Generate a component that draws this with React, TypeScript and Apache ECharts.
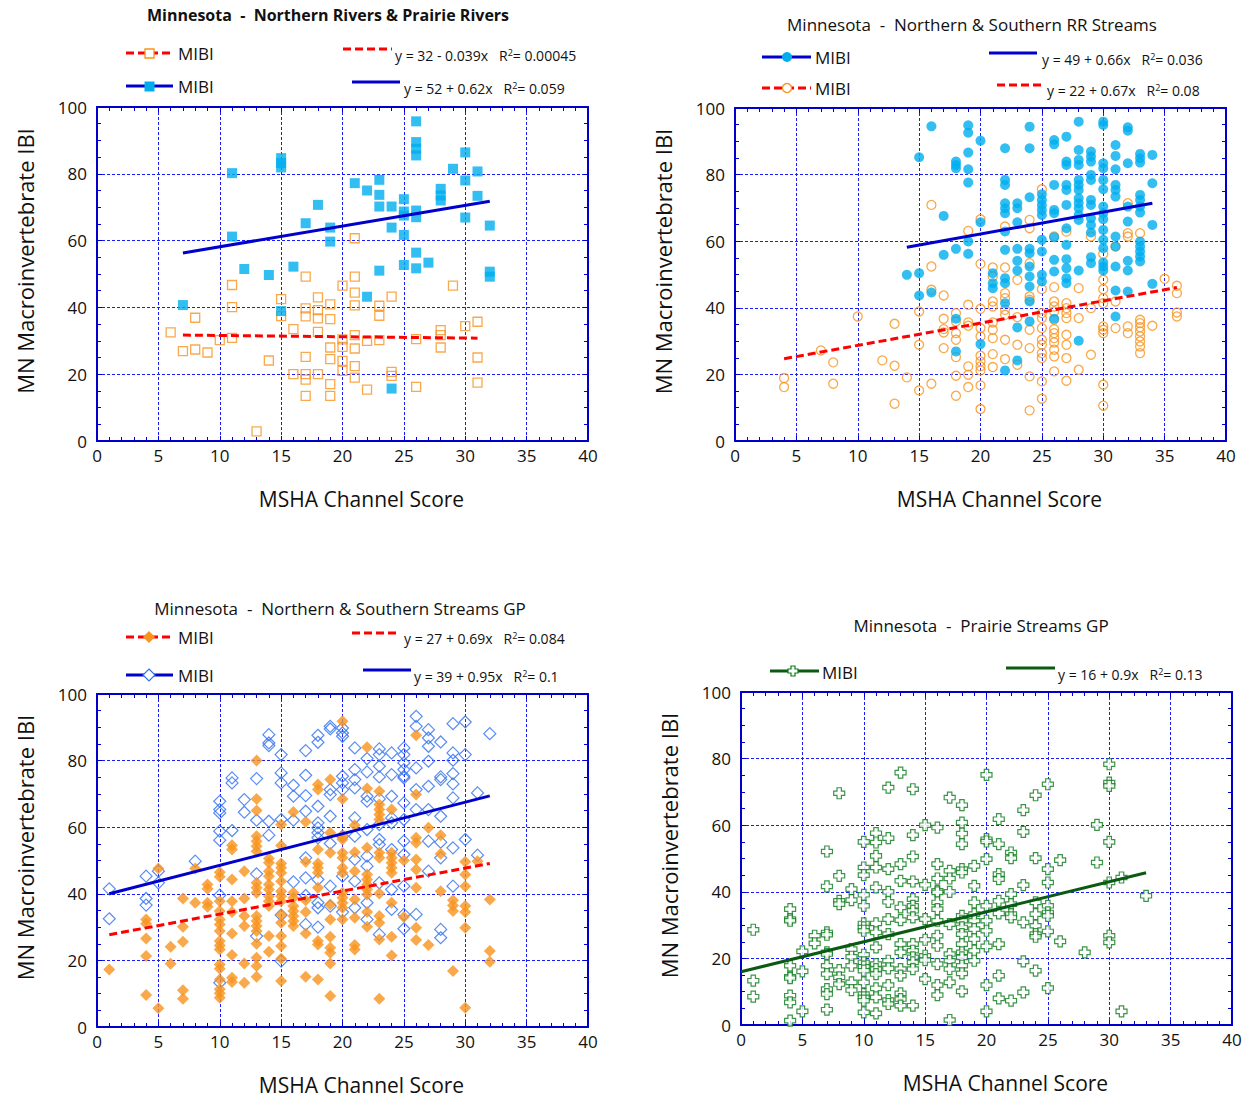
import React, { useEffect, useRef } from "react";
import * as echarts from "echarts";

// ---------- Data ----------
const titleTL = "Minnesota  -  Northern Rivers & Prairie Rivers";
const titleTR = "Minnesota  -  Northern & Southern RR Streams";
const titleBL = "Minnesota  -  Northern & Southern Streams GP";
const titleBR = "Minnesota  -  Prairie Streams GP";
const seriesName = "MIBI";
const xName = "MSHA Channel Score";
const yName = "MN Macroinvertebrate IBI";

const eqTLRed = "y = 32 - 0.039x   R{s|2}= 0.00045";
const eqTLBlue = "y = 52 + 0.62x   R{s|2}= 0.059";
const eqTRBlue = "y = 49 + 0.66x   R{s|2}= 0.036";
const eqTRRed = "y = 22 + 0.67x   R{s|2}= 0.08";
const eqBLRed = "y = 27 + 0.69x   R{s|2}= 0.084";
const eqBLBlue = "y = 39 + 0.95x   R{s|2}= 0.1";
const eqBRGreen = "y = 16 + 0.9x   R{s|2}= 0.13";

// Top-left: Northern Rivers & Prairie Rivers
const tlOrange = [
  [6, 32.5], [7, 26.9], [8, 36.9], [8, 27.4], [9, 26.5], [10, 30.2], [11, 46.7], [11, 40.1], [11, 30.9],
  [13, 2.9], [14, 24.1], [15, 42.5], [15, 37.4], [16, 33.5], [16, 20], [17, 49.2], [17, 39.7], [17, 37.3],
  [17, 25.2], [17, 20], [17, 18.4], [17, 13.5], [18, 43], [18, 39.2], [18, 36.7], [18, 32.7], [18, 20],
  [19, 40.9], [19, 36.5], [19, 28], [19, 24.5], [19, 17], [19, 13.5], [20, 46.5], [20, 30.4], [20, 28.2],
  [20, 24], [20, 21], [21, 60.7], [21, 49.2], [21, 44.4], [21, 40.6], [21, 31.7], [21, 27.7], [21, 22.4],
  [21, 19], [22, 30], [22, 15.4], [23, 40.5], [23, 37.5], [23, 30.2], [24, 43.2], [24, 20.7], [24, 19.5],
  [26, 30.5], [26, 16.2], [28, 33.2], [28, 31.7], [28, 28], [29, 46.5], [30, 34.4], [31, 35.7], [31, 25],
  [31, 17.5],
];
const tlCyan = [
  [7, 40.7], [11, 80.2], [11, 61.2], [12, 51.5], [14, 49.7], [15, 84.7], [15, 83.2], [15, 81.9], [15, 38.9],
  [16, 52.2], [17, 65.2], [18, 70.7], [19, 63.9], [19, 59.7], [21, 77.2], [22, 75], [22, 43.2], [23, 78.2],
  [23, 73.7], [23, 70.2], [23, 51], [24, 70.2], [24, 63.9], [24, 15.7], [25, 72.4], [25, 68.7], [25, 67.5],
  [25, 61.7], [25, 52.7], [26, 95.7], [26, 89.5], [26, 87.5], [26, 85.5], [26, 69], [26, 67], [26, 56.4],
  [26, 51.7], [27, 53.4], [28, 75.5], [28, 73.5], [28, 72], [29, 81.5], [30, 86.4], [30, 78], [30, 66.9],
  [31, 80.7], [31, 73.4], [32, 64.5], [32, 50.7], [32, 49.2],
];
const tlRedTrend = [[7, 31.7], [31, 30.8]];
const tlBlueTrend = [[7, 56.3], [32, 71.8]];

// Top-right: Northern & Southern RR Streams
const trCyan = [
  [14, 49.9], [15, 85.2], [15, 50.4], [15, 43.7], [16, 94.5], [16, 44.6], [17, 67.6], [17, 55.9],
  [18, 83.9], [18, 82.9], [18, 81.9], [18, 57.7], [18, 36.7], [18, 26.9],
  [19, 94.8], [19, 92.6], [19, 86.6], [19, 81.6], [19, 77.6], [19, 59.9], [19, 56.2],
  [20, 90.2], [20, 65.7], [20, 29.1], [21, 50.4], [21, 47.4], [21, 45.9],
  [22, 87.9], [22, 78.4], [22, 76.9], [22, 71.4], [22, 69.9], [22, 68.4], [22, 62.9], [22, 57.4], [22, 48.9],
  [22, 47.4], [22, 41.4], [22, 21.2],
  [23, 71.4], [23, 69.9], [23, 65.7], [23, 57.7], [23, 54.1], [23, 51.2], [23, 34.1], [23, 24.2],
  [24, 94.4], [24, 87.9], [24, 73.2], [24, 57.7], [24, 56.4], [24, 52.4], [24, 49.4], [24, 46.4], [24, 41.9], [24, 35.9],
  [25, 74.1], [25, 72.4], [25, 70.9], [25, 69.4], [25, 67.9], [25, 60.4], [25, 56.9], [25, 49.9], [25, 47.9],
  [26, 90.4], [26, 89.1], [26, 76.9], [26, 69.4], [26, 68.4], [26, 61.2], [26, 54.4], [26, 50.9], [26, 36.7],
  [27, 91.4], [27, 83.9], [27, 82.9], [27, 76.9], [27, 75.4], [27, 70.9], [27, 63.9], [27, 58.9], [27, 54.6],
  [27, 51.9], [27, 48.9], [27, 47.4],
  [28, 95.9], [28, 87.4], [28, 84.4], [28, 82.9], [28, 78.4], [28, 76.9], [28, 75.4], [28, 72.9], [28, 71.4],
  [28, 69.9], [28, 67.9], [28, 66.4], [28, 51.2], [28, 30.1],
  [29, 86.9], [29, 85.4], [29, 83.9], [29, 79.9], [29, 78.4], [29, 72.4], [29, 70.9], [29, 66.9], [29, 64.9],
  [29, 62.6], [29, 55.2], [29, 53.4],
  [30, 95.9], [30, 94.9], [30, 83.4], [30, 81.9], [30, 78.4], [30, 75.6], [30, 70.4], [30, 68.4], [30, 66.6],
  [30, 63.4], [30, 60.4], [30, 57.9], [30, 53.6], [30, 52.4], [30, 51.2],
  [31, 88.9], [31, 85.6], [31, 81.6], [31, 76.9], [31, 75.4], [31, 73.4], [31, 61.4], [31, 58.4], [31, 52.4],
  [31, 45.2], [31, 37.4],
  [32, 94.2], [32, 93.2], [32, 83.4], [32, 70.4], [32, 65.9], [32, 54.1], [32, 51.2], [32, 44.9],
  [33, 86.2], [33, 84.9], [33, 83.6], [33, 73.9], [33, 72.4], [33, 70.4], [33, 68.6], [33, 59.9], [33, 58.4],
  [33, 56.9], [33, 55.4], [33, 53.9],
  [34, 85.9], [34, 77.4], [34, 64.9], [34, 47.2],
];
const trOrange = [
  [4, 18.9], [4, 16.2], [7, 27.2], [8, 23.6], [8, 17.2], [10, 37.4], [12, 24.2], [13, 35.2], [13, 22.6],
  [13, 11.2], [14, 19.1], [15, 38.9], [15, 28.9], [15, 15.2], [16, 70.9], [16, 52.4], [16, 45.4], [16, 17.2],
  [17, 43.7], [17, 36.7], [17, 33.6], [17, 32.6], [17, 27.9],
  [18, 38.4], [18, 35.9], [18, 32.4], [18, 30.4], [18, 25.2], [18, 19.6], [18, 13.6],
  [19, 63.1], [19, 40.9], [19, 35.6], [19, 34.6], [19, 22.4], [19, 19.9], [19, 16.2],
  [20, 66.6], [20, 53.2], [20, 39.7], [20, 33.9], [20, 31.4], [20, 25.6], [20, 23.9], [20, 22.4], [20, 21.2],
  [20, 16.7], [20, 9.6],
  [21, 52.1], [21, 49.4], [21, 41.9], [21, 40.4], [21, 35.6], [21, 33.4], [21, 30.9], [21, 26.1], [21, 22.2],
  [22, 64.4], [22, 52.1], [22, 44.4], [22, 42.9], [22, 39.4], [22, 37.9], [22, 30.4], [22, 24.6],
  [23, 48.4], [23, 37.2], [23, 28.9], [23, 22.9],
  [24, 66.4], [24, 63.9], [24, 53.4], [24, 43.4], [24, 42.4], [24, 33.4], [24, 27.9], [24, 19.4], [24, 9.2],
  [25, 75.6], [25, 45.6], [25, 38.4], [25, 36.9], [25, 33.9], [25, 30.4], [25, 28.9], [25, 26.4], [25, 24.9],
  [25, 17.9], [25, 12.7],
  [26, 61.4], [26, 46.2], [26, 41.9], [26, 40.4], [26, 38.9], [26, 36.4], [26, 33.6], [26, 32.4], [26, 30.9],
  [26, 29.6], [26, 27.4], [26, 25.4], [26, 20.9],
  [27, 62.9], [27, 41.4], [27, 39.9], [27, 38.4], [27, 36.9], [27, 31.9], [27, 28.9], [27, 24.9], [27, 18.1],
  [28, 45.9], [28, 36.9], [28, 21.4], [29, 61.4], [29, 39.9], [29, 25.9],
  [30, 56.2], [30, 48.4], [30, 45.6], [30, 42.9], [30, 41.4], [30, 34.4], [30, 33.4], [30, 32.4], [30, 16.9], [30, 10.6],
  [31, 58.4], [31, 41.9], [31, 33.9], [32, 71.4], [32, 62.4], [32, 61.4], [32, 34.4], [32, 32.4],
  [33, 62.4], [33, 36.4], [33, 35.4], [33, 34.2], [33, 32.9], [33, 31.4], [33, 29.9], [33, 28.4], [33, 26.4],
  [34, 34.6], [35, 48.7], [36, 46.6], [36, 44.4], [36, 38.6], [36, 37.4],
];
const trBlueTrend = [[14, 58.2], [34, 71.4]];
const trRedTrend = [[4, 24.7], [36, 46.1]];

// Bottom-left: Northern & Southern Streams GP
const blBlue = [
  [1, 41.5], [1, 32.5], [4, 45.3], [4, 38.6], [4, 36.6], [5, 46.8], [5, 43.3], [8, 49.8],
  [10, 67.8], [10, 65.3], [10, 64.3], [10, 58.8], [10, 56.1], [10, 39.6], [10, 13.3],
  [11, 74.8], [11, 73.3], [11, 59], [12, 68.3], [12, 64.5], [13, 74.6], [13, 62.1], [13, 46], [13, 27.3],
  [14, 87.8], [14, 85.3], [14, 84.5], [14, 61.8], [14, 57.6],
  [15, 81.8], [15, 76.3], [15, 73.3], [15, 62.3], [15, 33.6], [15, 19.8],
  [16, 72.6], [16, 69.3], [16, 62.1], [16, 43.6],
  [17, 83], [17, 75.6], [17, 69.5], [17, 64.8], [17, 50.8], [17, 44.8], [17, 39.5], [17, 30.8],
  [18, 87.6], [18, 85.5], [18, 66.3], [18, 61.3], [18, 59.8], [18, 58.3], [18, 56.8], [18, 44.3], [18, 37.3],
  [18, 35.8], [18, 30],
  [19, 90.3], [19, 89.5], [19, 71.3], [19, 69.8], [19, 63.3], [19, 55.1], [19, 42.3], [19, 36.3],
  [20, 89.8], [20, 88.3], [20, 87.3], [20, 75.3], [20, 73.3], [20, 71.3], [20, 57.3], [20, 45.3], [20, 34.5],
  [21, 83.8], [21, 77.3], [21, 74.3], [21, 71.8], [21, 62.8], [21, 57.3], [21, 50.3], [21, 43.8], [21, 35.8],
  [22, 80.6], [22, 76.6], [22, 69.3], [22, 67.8], [22, 59.3], [22, 51.3], [22, 48.3], [22, 37.3], [22, 32.3],
  [23, 83.5], [23, 81.8], [23, 78.3], [23, 75.1], [23, 68.5], [23, 60.8], [23, 56.3], [23, 54.8], [23, 43.3],
  [23, 27.8],
  [24, 82.3], [24, 75.8], [24, 69.3], [24, 62.8], [24, 61.3], [24, 53.3], [24, 41.3], [24, 35.3],
  [25, 83.8], [25, 81.8], [25, 79.3], [25, 77.3], [25, 75.3], [25, 74.8], [25, 67.3], [25, 62.3], [25, 55.8],
  [25, 51.8], [25, 42.3], [25, 33.8], [25, 29.5],
  [26, 93.3], [26, 90.3], [26, 77.8], [26, 71.3], [26, 65.3], [26, 33.8],
  [27, 89.3], [27, 86.8], [27, 84.3], [27, 79.8], [27, 72.3], [27, 65.3], [27, 55.8], [27, 46.8],
  [28, 85.6], [28, 75.1], [28, 74.3], [28, 63.3], [28, 55.5], [28, 50.8], [28, 29.3], [28, 26.8],
  [29, 91.1], [29, 82.3], [29, 80.1], [29, 76.1], [29, 73], [29, 68.8], [29, 53.8], [29, 42.3],
  [30, 91.6], [30, 81.8], [30, 56.3], [31, 70.3], [31, 51.6], [32, 88.1],
];
const blOrange = [
  [1, 17.3], [4, 32.3], [4, 31], [4, 26.6], [4, 21.3], [4, 9.6], [5, 47.6], [5, 5.6], [6, 24.1], [6, 19],
  [7, 38.6], [7, 30.1], [7, 25.6], [7, 11], [7, 8.5], [8, 47.6], [8, 37.3], [9, 42.8], [9, 41.5], [9, 37.3], [9, 36.1],
  [10, 46.5], [10, 45.1], [10, 37.8], [10, 34.8], [10, 32.3], [10, 30.8], [10, 28.8], [10, 25.8], [10, 24.5],
  [10, 23.3], [10, 18.8], [10, 17.5], [10, 14.3], [10, 11.3], [10, 10.1], [10, 8.8],
  [11, 54.6], [11, 53.3], [11, 44.3], [11, 37.8], [11, 34.5], [11, 28.1], [11, 21.6], [11, 14.8], [11, 13.5],
  [12, 46.8], [12, 38.6], [12, 33.3], [12, 30.3], [12, 19.1], [12, 13.3],
  [13, 80], [13, 68.5], [13, 65], [13, 57.3], [13, 55.8], [13, 54.3], [13, 52.8], [13, 43.3], [13, 41.8],
  [13, 40.3], [13, 33.3], [13, 31.8], [13, 30.3], [13, 28.8], [13, 25], [13, 20.8], [13, 18.3], [13, 15.1],
  [14, 50.6], [14, 49.3], [14, 46.8], [14, 45.3], [14, 42.8], [14, 41.3], [14, 39.3], [14, 37.8], [14, 36.3],
  [14, 27.3], [14, 22.6],
  [15, 60.8], [15, 54.5], [15, 49.1], [15, 47.8], [15, 46.3], [15, 43.8], [15, 40.8], [15, 39.3], [15, 37.8],
  [15, 33.8], [15, 31.3], [15, 27.3], [15, 24.3], [15, 20.5], [15, 13.8],
  [16, 64.6], [16, 40.3], [16, 38.8], [16, 36.3], [16, 34.8], [16, 33.3], [16, 31.8], [16, 30.3],
  [17, 61.6], [17, 49.6], [17, 38.1], [17, 34.5], [17, 28.1], [17, 15.1],
  [18, 72.8], [18, 71.3], [18, 53.3], [18, 49.1], [18, 47.8], [18, 46.3], [18, 41.8], [18, 25.8], [18, 24.8], [18, 14.3],
  [19, 74.3], [19, 58.3], [19, 52.3], [19, 36.8], [19, 32.3], [19, 27.1], [19, 23.8], [19, 22.3], [19, 19.1], [19, 9.3],
  [20, 91.8], [20, 68.5], [20, 57.3], [20, 56.3], [20, 52.3], [20, 50.8], [20, 47.8], [20, 46.3], [20, 40.3],
  [20, 38.8], [20, 37.3], [20, 35.8], [20, 32.3],
  [21, 60.6], [21, 52.5], [21, 46.8], [21, 38.3], [21, 32.8], [21, 24.6], [21, 23.3],
  [22, 84], [22, 71.6], [22, 53.8], [22, 45.8], [22, 44.3], [22, 42.8], [22, 41.3], [22, 39.8], [22, 34.5], [22, 30.1],
  [23, 70.8], [23, 66.8], [23, 65.3], [23, 63.8], [23, 62.3], [23, 52.3], [23, 50.8], [23, 40.1], [23, 33.3],
  [23, 31.3], [23, 26.3], [23, 8.5],
  [24, 65.3], [24, 52.3], [24, 50.8], [24, 49.3], [24, 47.8], [24, 46.3], [24, 37.3], [24, 27.1], [24, 21.5],
  [25, 50], [25, 33], [26, 87.6], [26, 69.8], [26, 56.8], [26, 55.3], [26, 50.3], [26, 47.3], [26, 41.8],
  [26, 29.8], [26, 26.1], [27, 59.8], [27, 24.6], [28, 57.6], [28, 52], [28, 40.8],
  [29, 38.1], [29, 36.5], [29, 34.8], [29, 16.8],
  [30, 49.6], [30, 45.8], [30, 42.3], [30, 36.3], [30, 34.5], [30, 29.8], [30, 5.8],
  [31, 49.8], [32, 38.3], [32, 22.8], [32, 19.6],
];
const blRedTrend = [[1, 27.7], [32, 49.1]];
const blBlueTrend = [[1, 40.0], [32, 69.4]];

// Bottom-right: Prairie Streams GP
const brGreen = [
  [1, 28.6], [1, 13.3], [1, 8.5], [4, 34.8], [4, 31.8], [4, 31.3], [4, 17.8], [4, 14.5], [4, 14.1], [4, 8.8],
  [4, 6.8], [4, 1.3], [5, 22.1], [5, 16.1], [5, 4.1], [6, 26.8], [6, 24.5],
  [7, 52.1], [7, 41.6], [7, 27.8], [7, 27.1], [7, 21.8], [7, 21.3], [7, 17.8], [7, 15.3], [7, 10.8], [7, 9.3], [7, 4.6],
  [8, 69.6], [8, 44.8], [8, 37.3], [8, 36.3], [8, 16.5], [8, 14.3], [8, 12.3],
  [9, 40.8], [9, 37.5], [9, 22.8], [9, 20.5], [9, 17.8], [9, 12.8], [9, 10.5],
  [10, 55], [10, 47.3], [10, 45], [10, 39.1], [10, 35.8], [10, 30.5], [10, 29.3], [10, 28.3], [10, 21.1],
  [10, 18.8], [10, 17.5], [10, 16.3], [10, 12.8], [10, 9.3], [10, 8.3], [10, 7.3], [10, 3.8],
  [11, 57.6], [11, 54.8], [11, 50.8], [11, 47.3], [11, 41.3], [11, 30.5], [11, 27.8], [11, 23.3], [11, 18.3],
  [11, 16.8], [11, 15.3], [11, 11], [11, 8.3], [11, 3.5],
  [12, 71.3], [12, 56.1], [12, 46.8], [12, 40], [12, 37], [12, 31.8], [12, 27.3], [12, 19.3], [12, 17], [12, 12],
  [12, 7.5], [12, 6.3],
  [13, 75.8], [13, 48.3], [13, 43.3], [13, 35.3], [13, 31.5], [13, 24.3], [13, 21.8], [13, 16.8], [13, 14.8],
  [13, 9.5], [13, 7.8], [13, 5.8],
  [14, 70.8], [14, 57], [14, 50.6], [14, 43.1], [14, 37.8], [14, 35.8], [14, 34.3], [14, 32.3], [14, 24.3],
  [14, 22.3], [14, 20.3], [14, 18.8], [14, 16.8], [14, 5.8],
  [15, 60], [15, 42.1], [15, 31.8], [15, 25.6], [15, 20.8], [15, 19.5], [15, 13.8],
  [16, 59.3], [16, 48.3], [16, 44], [16, 40.3], [16, 39.8], [16, 36.8], [16, 34.8], [16, 31.3], [16, 26.8],
  [16, 23.8], [16, 18.3], [16, 12], [16, 9],
  [17, 68.3], [17, 46.3], [17, 44], [17, 40], [17, 30.3], [17, 21.3], [17, 19.3], [17, 16.8], [17, 12.8], [17, 1.5],
  [18, 66], [18, 60.8], [18, 57.5], [18, 54.3], [18, 46.8], [18, 45.8], [18, 32.8], [18, 31.3], [18, 29.3],
  [18, 27.3], [18, 24.3], [18, 21.8], [18, 20.3], [18, 17.8], [18, 15.5], [18, 10.1],
  [19, 47.8], [19, 41.8], [19, 36.8], [19, 33.3], [19, 31.3], [19, 28.8], [19, 25.8], [19, 22.3], [19, 19.3],
  [20, 75.1], [20, 55.8], [20, 55.1], [20, 49.8], [20, 35.8], [20, 31.3], [20, 28.3], [20, 23.6], [20, 12], [20, 4.1],
  [21, 61.8], [21, 54.3], [21, 45.3], [21, 43.8], [21, 37.3], [21, 33.5], [21, 24.3], [21, 14.8], [21, 8],
  [22, 51.8], [22, 50.1], [22, 39.3], [22, 36.3], [22, 33.3], [22, 32.3], [22, 7.3],
  [23, 64.5], [23, 58], [23, 42], [23, 30.8], [23, 19.1], [23, 9.8],
  [24, 69], [24, 50.1], [24, 36.8], [24, 33.3], [24, 29.8], [24, 27.3], [24, 26.5], [24, 16.3],
  [25, 72.3], [25, 46.8], [25, 42.8], [25, 35.8], [25, 33.8], [25, 32.8], [25, 28.1], [25, 11.1],
  [26, 49.5], [26, 25.1], [28, 21.8], [29, 60.1], [29, 48.8],
  [30, 78.3], [30, 72.8], [30, 71.8], [30, 55], [30, 42.8], [30, 26.8], [30, 24.8],
  [31, 44.3], [31, 4.1], [33, 38.8],
];
const brGreenTrend = [[0, 16], [33, 45.7]];

// ---------- Styles ----------
const FONT = "'Open Sans', 'Noto Sans', sans-serif";
const FRAME = "#0000c8";
const GRIDC = "#1a1aff";
const ORANGE = "#f7931e";
const CYAN = "#00aeef";
const BLUE = "#0000cc";
const RED = "#ff0000";
const LBLUE = "#2f6ff0";
const GREEN = "#0a7a1a";
const DGREEN = "#0b5a14";
const TXT = "#111";

const gridRects = [
  { left: 97, top: 107, width: 491, height: 334 },
  { left: 735, top: 108, width: 491, height: 333 },
  { left: 97, top: 694, width: 491, height: 333 },
  { left: 741, top: 692, width: 491, height: 333 },
];

function makeAxes(g: number) {
  const tick = { show: true, inside: true, length: 5, lineStyle: { color: FRAME, width: 1 } };
  const line = { show: true, onZero: false, lineStyle: { color: FRAME, width: 2 } };
  const split = { show: true, lineStyle: { color: GRIDC, type: [3, 2], width: 1 } };
  const minor = (n: number) => ({ show: true, splitNumber: n, length: 4, lineStyle: { color: FRAME, width: 1 } });
  const xb = {
    gridIndex: g, type: "value", min: 0, max: 40, interval: 5, position: "bottom",
    axisLine: line, axisTick: tick, minorTick: minor(5),
    axisLabel: { color: TXT, fontSize: 17, fontFamily: FONT, margin: 6 },
    splitLine: split,
    name: xName, nameLocation: "middle", nameGap: 47,
    nameTextStyle: { color: TXT, fontSize: 21, fontFamily: FONT, padding: [0, 0, 0, 38] },
  };
  const xt = {
    gridIndex: g, type: "value", min: 0, max: 40, interval: 5, position: "top",
    axisLine: line, axisTick: tick, minorTick: minor(5),
    axisLabel: { show: false }, splitLine: { show: false },
  };
  const yl = {
    gridIndex: g, type: "value", min: 0, max: 100, interval: 20, position: "left",
    axisLine: line, axisTick: tick, minorTick: minor(4),
    axisLabel: { color: TXT, fontSize: 17, fontFamily: FONT, margin: 10 },
    splitLine: split,
    name: yName, nameLocation: "middle", nameGap: 61,
    nameTextStyle: { color: TXT, fontSize: 22, fontFamily: FONT, padding: [0, 0, 0, 26] },
  };
  const yr = {
    gridIndex: g, type: "value", min: 0, max: 100, interval: 20, position: "right",
    axisLine: line, axisTick: tick, minorTick: minor(4),
    axisLabel: { show: false }, splitLine: { show: false },
  };
  return { x: [xb, xt], y: [yl, yr] };
}

function scatter(g: number, data: number[][], symbol: string, size: number, itemStyle: any) {
  return {
    type: "scatter", name: seriesName, xAxisIndex: 2 * g, yAxisIndex: 2 * g, data,
    symbol, symbolSize: size, itemStyle, silent: true,
  };
}
function trend(g: number, data: number[][], color: string, dashed: boolean) {
  return {
    type: "line", xAxisIndex: 2 * g, yAxisIndex: 2 * g, data, showSymbol: false, symbol: "none",
    lineStyle: { color, width: 3, type: dashed ? [8, 4] : "solid" }, silent: true, z: 5,
  };
}

const CROSS = "path://M3,0L7,0L7,3L10,3L10,7L7,7L7,10L3,10L3,7L0,7L0,3L3,3Z";

// graphic helpers
function gLine(x1: number, x2: number, y: number, color: string, dashed: boolean) {
  return {
    type: "line", shape: { x1, y1: y, x2, y2: y },
    style: { stroke: color, lineWidth: 3, lineDash: dashed ? [8, 4] : null },
  };
}
function gText(text: string, x: number, y: number, size: number, opts: any = {}) {
  return {
    type: "text", x, y,
    style: {
      text, fontSize: size, fontFamily: FONT, fill: TXT,
      align: opts.align || "left", verticalAlign: "middle", fontWeight: opts.bold ? "bold" : "normal",
      rich: { s: { fontSize: 9, fontFamily: FONT, fill: TXT, verticalAlign: "top" } },
    },
  };
}
function diamond(cx: number, cy: number, r: number) {
  return [[cx, cy - r], [cx + r, cy], [cx, cy + r], [cx - r, cy]];
}
function crossPts(cx: number, cy: number, s: number) {
  const a = s * 0.2, b = s * 0.5;
  return [
    [cx - a, cy - b], [cx + a, cy - b], [cx + a, cy - a], [cx + b, cy - a], [cx + b, cy + a], [cx + a, cy + a],
    [cx + a, cy + b], [cx - a, cy + b], [cx - a, cy + a], [cx - b, cy + a], [cx - b, cy - a], [cx - a, cy - a],
  ];
}

export default function App() {
  const ref = useRef<HTMLDivElement>(null);
  useEffect(() => {
    if (!ref.current) return;
    const chart = echarts.init(ref.current, null, { renderer: "svg" });
    const axes = [0, 1, 2, 3].map(makeAxes);
    const xAxis: any[] = [];
    const yAxis: any[] = [];
    axes.forEach((a) => { xAxis.push(...a.x); yAxis.push(...a.y); });

    const graphic: any[] = [
      // titles
      gText(titleTL, 328, 15, 16, { align: "center", bold: true }),
      gText(titleTR, 972, 24, 17, { align: "center" }),
      gText(titleBL, 340, 608, 17, { align: "center" }),
      gText(titleBR, 981, 625, 17, { align: "center" }),
      // TL legend
      gLine(126, 173, 53, RED, true),
      { type: "rect", shape: { x: 145, y: 49, width: 9, height: 9 }, style: { fill: "#fff", stroke: ORANGE, lineWidth: 1.3 } },
      gText(seriesName, 178, 53, 17),
      gLine(126, 173, 86, BLUE, false),
      { type: "rect", shape: { x: 144.5, y: 81.5, width: 10, height: 10 }, style: { fill: CYAN } },
      gText(seriesName, 178, 86, 17),
      gLine(343, 392, 49, RED, true),
      gText(eqTLRed, 395, 55, 14),
      gLine(352, 400, 82, BLUE, false),
      gText(eqTLBlue, 404, 88, 14),
      // TR legend
      gLine(762, 811, 57, BLUE, false),
      { type: "circle", shape: { cx: 787, cy: 57, r: 5 }, style: { fill: CYAN } },
      gText(seriesName, 815, 57, 17),
      gLine(762, 811, 88, RED, true),
      { type: "circle", shape: { cx: 787, cy: 88, r: 4.5 }, style: { fill: "#fff", stroke: ORANGE, lineWidth: 1.3 } },
      gText(seriesName, 815, 88, 17),
      gLine(989, 1037, 53, BLUE, false),
      gText(eqTRBlue, 1042, 59, 14),
      gLine(997, 1044, 85, RED, true),
      gText(eqTRRed, 1047, 90, 14),
      // BL legend
      gLine(126, 173, 637, RED, true),
      { type: "polygon", shape: { points: diamond(149, 637, 6) }, style: { fill: ORANGE } },
      gText(seriesName, 178, 637, 17),
      gLine(126, 173, 675, BLUE, false),
      { type: "polygon", shape: { points: diamond(149, 675, 6) }, style: { fill: "#fff", stroke: LBLUE, lineWidth: 1.2 } },
      gText(seriesName, 178, 675, 17),
      gLine(352, 400, 633, RED, true),
      gText(eqBLRed, 404, 638, 14),
      gLine(363, 411, 670, BLUE, false),
      gText(eqBLBlue, 414, 676, 14),
      // BR legend
      gLine(770, 819, 671, DGREEN, false),
      { type: "polygon", shape: { points: crossPts(793, 671, 10) }, style: { fill: "#fff", stroke: GREEN, lineWidth: 1.2 } },
      gText(seriesName, 822, 672, 17),
      gLine(1006, 1055, 668, DGREEN, false),
      gText(eqBRGreen, 1058, 674, 14),
    ];

    const series: any[] = [
      scatter(0, tlOrange, "rect", 9, { color: "rgba(255,255,255,0)", borderColor: ORANGE, borderWidth: 1.3 }),
      scatter(0, tlCyan, "rect", 10, { color: CYAN }),
      trend(0, tlRedTrend, RED, true),
      trend(0, tlBlueTrend, BLUE, false),
      scatter(1, trOrange, "circle", 9, { color: "rgba(255,255,255,0)", borderColor: ORANGE, borderWidth: 1.3 }),
      scatter(1, trCyan, "circle", 10, { color: CYAN }),
      trend(1, trBlueTrend, BLUE, false),
      trend(1, trRedTrend, RED, true),
      scatter(2, blBlue, "diamond", 12, { color: "rgba(255,255,255,0)", borderColor: LBLUE, borderWidth: 1.2 }),
      scatter(2, blOrange, "diamond", 12, { color: ORANGE }),
      trend(2, blRedTrend, RED, true),
      trend(2, blBlueTrend, BLUE, false),
      scatter(3, brGreen, CROSS, 11, { color: "#fff", borderColor: GREEN, borderWidth: 1.2 }),
      trend(3, brGreenTrend, DGREEN, false),
    ];

    chart.setOption({
      animation: false,
      backgroundColor: "#fff",
      textStyle: { fontFamily: FONT },
      grid: gridRects.map((r) => ({ ...r, containLabel: false })),
      xAxis,
      yAxis,
      series,
      graphic,
    });
    return () => chart.dispose();
  }, []);
  return (
    <div
      ref={ref}
      style={{ position: "absolute", left: 0, top: 0, width: 1248, height: 1101, background: "#fff" }}
    />
  );
}
